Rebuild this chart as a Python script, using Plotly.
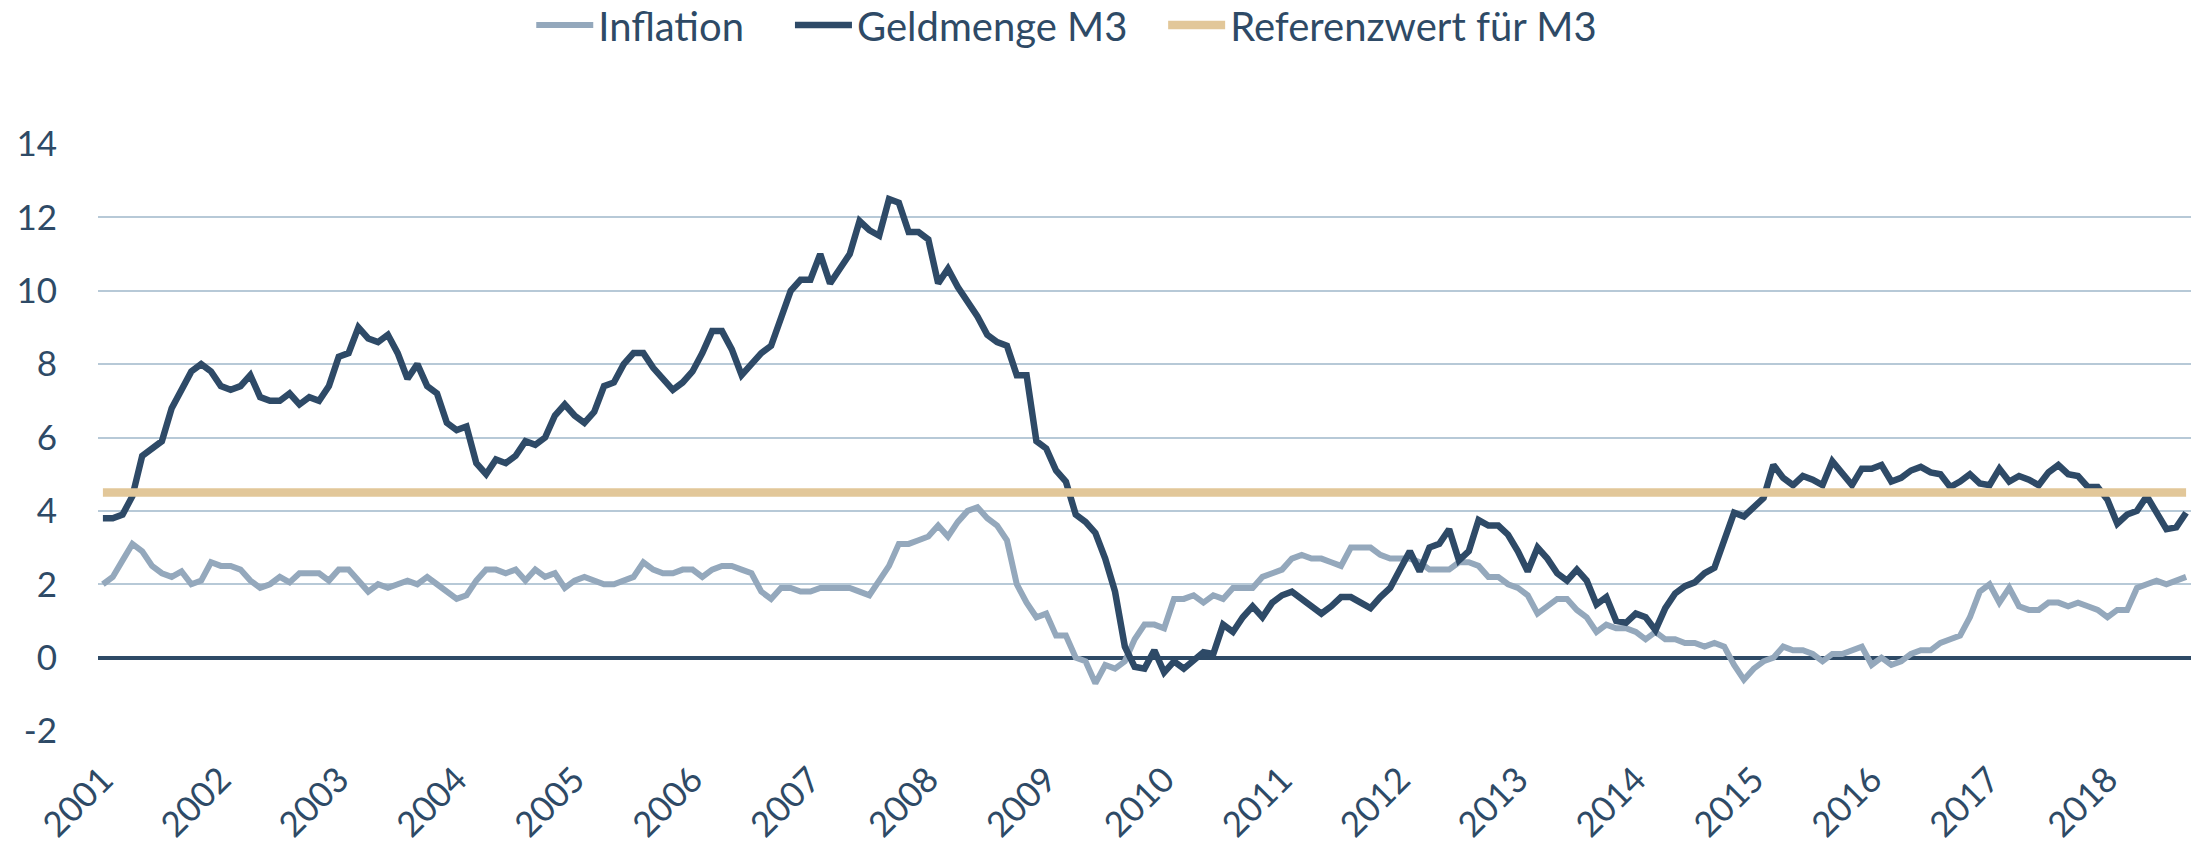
import plotly.graph_objects as go
import pandas as pd

# Monthly categories Feb 2001 .. Oct 2018
months = pd.period_range("2001-02", "2018-10", freq="M").strftime("%Y-%m").tolist()
year_labels = [str(y) for y in range(2001, 2019)]

inflation = [
    2.0, 2.2, 2.65, 3.1, 2.9, 2.5, 2.3, 2.2, 2.35, 2.0, 2.1,
    2.6, 2.5, 2.5, 2.4, 2.1, 1.9, 2.0, 2.2, 2.05, 2.3, 2.3, 2.3,
    2.1, 2.4, 2.4, 2.1, 1.8, 2.0, 1.9, 2.0, 2.1, 2.0, 2.2, 2.0,
    1.8, 1.6, 1.7, 2.1, 2.4, 2.4, 2.3, 2.4, 2.1, 2.4, 2.2, 2.3,
    1.9, 2.1, 2.2, 2.1, 2.0, 2.0, 2.1, 2.2, 2.6, 2.4, 2.3, 2.3,
    2.4, 2.4, 2.2, 2.4, 2.5, 2.5, 2.4, 2.3, 1.8, 1.6, 1.9, 1.9,
    1.8, 1.8, 1.9, 1.9, 1.9, 1.9, 1.8, 1.7, 2.1, 2.5, 3.1, 3.1,
    3.2, 3.3, 3.6, 3.3, 3.7, 4.0, 4.1, 3.8, 3.6, 3.2, 2.0, 1.5,
    1.1, 1.2, 0.6, 0.6, 0.0, -0.1, -0.7,
    -0.2, -0.3, -0.1, 0.5, 0.9, 0.9, 0.8, 1.6, 1.6, 1.7, 1.5, 1.7,
    1.6, 1.9, 1.9, 1.9, 2.2, 2.3, 2.4, 2.7, 2.8, 2.7, 2.7, 2.6,
    2.5, 3.0, 3.0, 3.0, 2.8, 2.7, 2.7, 2.7, 2.6, 2.4, 2.4, 2.4,
    2.6, 2.6, 2.5, 2.2, 2.2, 2.0, 1.9, 1.7, 1.2, 1.4, 1.6, 1.6,
    1.3, 1.1, 0.7, 0.9, 0.8, 0.8, 0.7, 0.5, 0.7, 0.5, 0.5, 0.4,
    0.4, 0.3, 0.4, 0.3, -0.2, -0.6, -0.3, -0.1, 0.0, 0.3, 0.2, 0.2,
    0.1, -0.1, 0.1, 0.1, 0.2, 0.3, -0.2, 0.0, -0.2, -0.1, 0.1, 0.2,
    0.2, 0.4, 0.5, 0.6, 1.1, 1.8, 2.0, 1.5, 1.9, 1.4, 1.3, 1.3,
    1.5, 1.5, 1.4, 1.5, 1.4, 1.3, 1.1, 1.3, 1.3, 1.9, 2.0, 2.1,
    2.0, 2.1, 2.2,
]

geldmenge_m3 = [
    3.8, 3.8, 3.9, 4.4, 5.5, 5.7, 5.9, 6.8, 7.3, 7.8, 8.0, 7.8,
    7.4, 7.3, 7.4, 7.7, 7.1, 7.0, 7.0, 7.2, 6.9, 7.1, 7.0, 7.4,
    8.2, 8.3, 9.0, 8.7, 8.6, 8.8, 8.3, 7.6, 8.0, 7.4, 7.2, 6.4,
    6.2, 6.3, 5.3, 5.0, 5.4, 5.3, 5.5, 5.9, 5.8, 6.0, 6.6, 6.9,
    6.6, 6.4, 6.7, 7.4, 7.5, 8.0, 8.3, 8.3, 7.9, 7.6, 7.3, 7.5,
    7.8, 8.3, 8.9, 8.9, 8.4, 7.7, 8.0, 8.3, 8.5, 9.2, 10.0, 10.3,
    10.3, 11.0, 10.2, 10.6, 11.0, 11.9, 11.65, 11.5, 12.5, 12.4, 11.6, 11.6,
    11.4, 10.2, 10.6, 10.1, 9.7, 9.3, 8.8, 8.6, 8.5, 7.7, 7.7, 5.9,
    5.7, 5.1, 4.8, 3.9, 3.7,
    3.4, 2.7, 1.8, 0.3, -0.25, -0.3, 0.2, -0.4, -0.1, -0.3, -0.1, 0.15,
    0.1, 0.9, 0.7, 1.1, 1.4, 1.1, 1.5, 1.7, 1.8, 1.6, 1.4, 1.2,
    1.4, 1.65, 1.65, 1.5, 1.35, 1.65, 1.9, 2.4, 2.9, 2.35, 3.0, 3.1,
    3.5, 2.65, 2.9, 3.75, 3.6, 3.6, 3.35, 2.9, 2.35, 3.0, 2.7, 2.3,
    2.1, 2.4, 2.1, 1.45, 1.65, 1.0, 0.95, 1.2, 1.1, 0.75, 1.35, 1.75,
    1.95, 2.05, 2.3, 2.45, 3.2, 3.95, 3.85, 4.1, 4.35, 5.25, 4.9, 4.7,
    4.95, 4.85, 4.7, 5.35, 5.0, 4.7, 5.15, 5.15, 5.25, 4.8, 4.9, 5.1,
    5.2, 5.05, 5.0, 4.65, 4.8, 5.0, 4.75, 4.7, 5.15, 4.8, 4.95, 4.85,
    4.7, 5.05, 5.25, 5.0, 4.95, 4.65, 4.65, 4.3, 3.65, 3.9, 4.0, 4.4,
    3.95, 3.5, 3.55, 3.95,
]

referenzwert = [4.5] * len(months)

y_ticks = [-2, 0, 2, 4, 6, 8, 10, 12, 14]
y_ticktext = ["-2", "0", "2", "4", "6", "8", "10", "12", "14"]

series_names = ["Inflation", "Geldmenge M3", "Referenzwert für M3"]

TXT = "#2E4A66"
FONT = "Lato"
NB = "\u00a0"

fig = go.Figure()
fig.add_trace(go.Scatter(x=months, y=inflation, mode="lines", name=series_names[0] + NB * 4,
                         line=dict(color="#94A8BC", width=6)))
fig.add_trace(go.Scatter(x=months, y=geldmenge_m3, mode="lines", name=series_names[1] + NB * 3,
                         line=dict(color="#2E4A67", width=6.5)))
fig.add_trace(go.Scatter(x=months, y=referenzwert, mode="lines", name=series_names[2],
                         line=dict(color="#E2C799", width=8.5)))

fig.update_layout(
    width=2193, height=849,
    margin=dict(l=98, r=2, t=144, b=118, autoexpand=False),
    paper_bgcolor="white", plot_bgcolor="white",
    font=dict(family=FONT, color=TXT, size=35),
    showlegend=True,
    legend=dict(orientation="h", x=0.207, xanchor="left", y=1.2027, yanchor="middle",
                itemwidth=57,
                font=dict(family=FONT, size=40, color=TXT), bgcolor="rgba(0,0,0,0)"),
    xaxis=dict(type="category", categoryorder="array", categoryarray=months,
               range=[-0.5, len(months) - 0.5],
               tickmode="array", tickvals=months[::12], ticktext=year_labels,
               tickangle=-45, showgrid=False, zeroline=False, showline=False,
               ticks="", ticklabelstandoff=20,
               tickfont=dict(family=FONT, size=35, color=TXT)),
    yaxis=dict(range=[-2, 14], tickmode="array", tickvals=y_ticks, ticktext=y_ticktext,
               showgrid=True, gridcolor="#B7C9D7", gridwidth=2,
               zeroline=True, zerolinecolor="#2E4A66", zerolinewidth=3.5,
               showline=False, ticks="", ticklabelstandoff=40,
               tickfont=dict(family=FONT, size=35, color=TXT)),
)

fig.write_html("out.html",
               config={"displayModeBar": False},
               post_script="document.body.style.margin='0';document.body.style.overflow='hidden';")
